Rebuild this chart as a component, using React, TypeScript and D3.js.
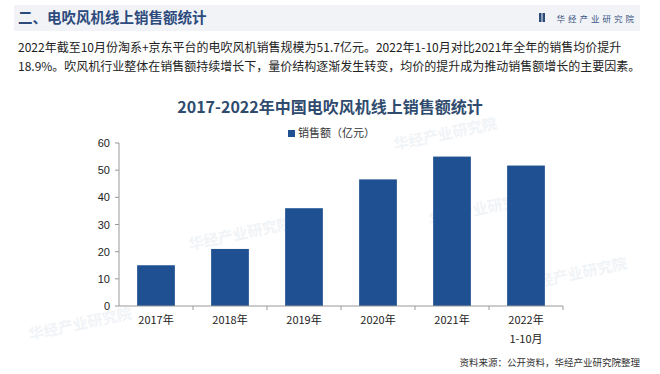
import { scaleBand, scaleLinear } from "d3";

const categories = ["2017年", "2018年", "2019年", "2020年", "2021年", "2022年\n1-10月"];
const sales = [15, 21, 36, 46.6, 55, 51.7];
const yTicks = [0, 10, 20, 30, 40, 50, 60];

const paragraph = [
  "2022年截至10月份淘系+京东平台的电吹风机销售规模为51.7亿元。2022年1-10月对比2021年全年的销售均价提升",
  "18.9%。吹风机行业整体在销售额持续增长下，量价结构逐渐发生转变，均价的提升成为推动销售额增长的主要因素。",
];

const font = "'Noto Sans CJK SC', 'Noto Sans', sans-serif";

export default function App() {
  const width = 660;
  const height = 374;
  const left = 119;
  const right = 563;
  const top = 143;
  const bottom = 306;

  const x = scaleBand<string>().domain(categories).range([left, right]).paddingInner(0.49).paddingOuter(0.245);
  const y = scaleLinear().domain([0, 60]).range([bottom, top]);
  const step = x.step();

  return (
    <svg width={width} height={height} style={{ position: "absolute", left: 0, top: 0 }} fontFamily={font}>
      <rect width={width} height={height} fill="#ffffff" />
      <rect x={14} y={5} width={626} height={26} fill="#f1f3f7" />
      <text x={18} y={23} fontSize={14.5} fontWeight={700} fill="#2c4a7c">
        二、电吹风机线上销售额统计
      </text>
      <rect x={539} y={13} width={2.5} height={9} fill="#2c4a7c" />
      <rect x={542.5} y={13} width={2.5} height={9} fill="#2c4a7c" />
      <text x={637} y={21.5} fontSize={8.5} fill="#3a5583" textAnchor="end" letterSpacing={3}>
        华经产业研究院
      </text>

      {paragraph.map((line, i) => (
        <text key={i} x={18} y={52 + i * 19} fontSize={12} fill="#222">
          {line}
        </text>
      ))}

      {/* faint watermarks */}
      {[
        [395, 150],
        [190, 250],
        [430, 225],
        [30, 340],
        [525, 290],
      ].map(([wx, wy], i) => (
        <text
          key={i}
          x={wx}
          y={wy}
          fontSize={15}
          fontWeight={700}
          fill="#e8edf3"
          opacity={0.6}
          transform={`rotate(-12 ${wx} ${wy})`}
        >
          华经产业研究院
        </text>
      ))}

      <text x={330} y={113} fontSize={16} fontWeight={700} fill="#2f4b6e" textAnchor="middle">
        2017-2022年中国电吹风机线上销售额统计
      </text>

      <rect x={288} y={130} width={7} height={7} fill="#1f5192" />
      <text x={298} y={137} fontSize={11} fill="#333">
        销售额（亿元）
      </text>

      {/* y axis */}
      <line x1={left} x2={left} y1={top} y2={bottom} stroke="#999" />
      {yTicks.map((t) => (
        <g key={t}>
          <line x1={left - 4} x2={left} y1={y(t)} y2={y(t)} stroke="#999" />
          <text x={left - 9} y={y(t) + 4} fontSize={11} fill="#222" textAnchor="end" fontFamily="Arial, 'Liberation Sans', sans-serif">
            {t}
          </text>
        </g>
      ))}

      {sales.map((v, i) => (
        <rect
          key={categories[i]}
          x={x(categories[i])}
          y={y(v)}
          width={x.bandwidth()}
          height={bottom - y(v)}
          fill="#1f5192"
        />
      ))}

      {/* x axis */}
      <line x1={left} x2={right} y1={bottom} y2={bottom} stroke="#999" />
      {categories.map((_, i) => (
        <line key={i} x1={left + step * (i + 1)} x2={left + step * (i + 1)} y1={bottom} y2={bottom + 4} stroke="#999" />
      ))}
      {categories.map((c) => {
        const cx = (x(c) ?? 0) + x.bandwidth() / 2;
        return c.split("\n").map((part, j) => (
          <text key={c + j} x={cx} y={bottom + 18 + j * 19} fontSize={11} fill="#222" textAnchor="middle">
            {part}
          </text>
        ));
      })}

      <text x={640} y={366} fontSize={9.5} fill="#333" textAnchor="end">
        资料来源：公开资料，华经产业研究院整理
      </text>
    </svg>
  );
}
